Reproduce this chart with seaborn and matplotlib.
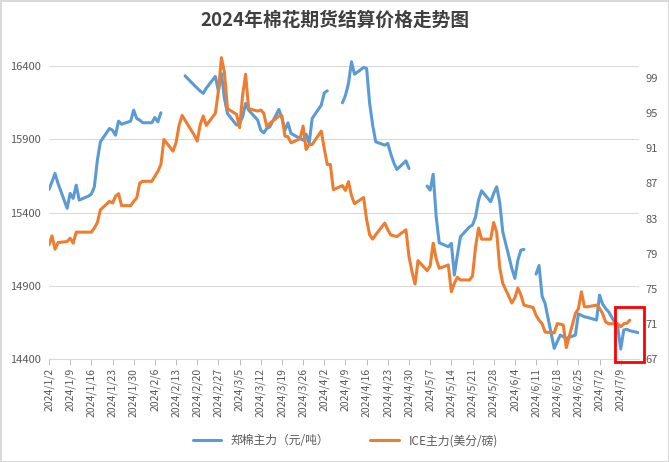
import pandas as pd
import matplotlib.pyplot as plt
from matplotlib.patches import Rectangle
from matplotlib.lines import Line2D
import seaborn as sns

# trading days (weekdays) shown on the chart
days = pd.bdate_range("2024-01-02", "2024-07-15")

# 郑棉主力 (元/吨), None = no trading (Chinese holidays)
zc_jan = [15559, 15611, 15668, 15600, 15430, 15532, 15498, 15588, 15486, 15513, 15527,
          15577, 15759, 15884, 15975, 15963, 15929, 16025, 16004, 16025, 16100, 16043]
zc_feb = [16032, 16014, 16014, 16050, 16020, 16082, None, None, None, None, None, 16334,
          16270, 16250, 16230, 16215, 16250, 16330, 16230, 16350, 16180]
zc_mar = [16077, 15998, 16009, 16054, 16146, 16100, 16032, 15963, 15945, 15975, 15986,
          16105, 16043, 15963, 16013, 15941, 15907, 15895, 15936, 15873, 16043]
zc_apr = [16134, 16218, 16232, None, None, 16150, 16200, 16282, 16430, 16345, 16391,
          16384, 16146, 15998, 15884, 15861, 15873, 15800, 15740, 15695, 15754, 15702]
zc_may = [None, None, None, 15582, 15554, 15663, 15372, 15195, 15168, 15191, 14975, 15111,
          15236, 15304, 15316, 15372, 15486, 15550, 15475, 15532, 15577, 15470, 15270]
zc_jun = [15020, 14952, 15077, 15145, 15150, None, 14981, 15040, 14830, 14780, 14475,
          14520, 14565, 14554, 14543, 14565, 14710, 14700, 14690, 14686]
zc_jul = [14668, 14838, 14777, 14747, 14724, 14617, 14470, 14600, 14605, 14595, 14581]

# ICE主力 (美分/磅)
ice_jan = [80.01, 81.04, 79.52, 80.28, 80.39, 80.77, 80.2, 81.46, 81.46, 81.46, 81.46,
           81.92, 82.56, 84.0, 84.96, 84.77, 85.53, 85.84, 84.47, 84.47, 84.96, 85.34]
ice_feb = [87.05, 87.24, 87.24, 87.81, 88.38, 89.15, 92.0, 90.67, 91.62, 93.6, 94.74,
           94.18, 92.5, 91.81, 93.71, 94.66, 93.6, 94.97, 97.5, 101.3, 99.6]
ice_mar = [95.5, 94.85, 93.33, 97.0, 99.42, 95.5, 95.23, 95.35, 94.97, 93.45, 93.83,
           94.66, 94.7, 92.38, 92.3, 91.62, 92.08, 93.52, 90.86, 91.43, 91.43]
ice_apr = [92.95, 90.94, 89.15, 89.15, 86.29, 86.75, 86.2, 87.2, 85.6, 84.7, 85.4,
           82.9, 81.16, 80.67, 81.16, 82.49, 81.73, 81.13, 81.05, 80.96, 81.73, 78.68]
ice_may = [76.97, 75.56, 78.22, 77.08, 77.62, 80.2, 78.42, 77.35, 77.73, 74.68, 75.64,
           76.33, 76.02, 76.02, 76.47, 79.75, 81.92, 80.66, 80.66, 82.56, 81.42, 77.4, 75.64]
ice_jun = [73.4, 74.0, 75.1, 74.3, 73.16, 72.9, 72.0, 71.45, 71.05, 70.1, 70.0,
           71.05, 71.0, 70.9, 68.33, 72.2, 72.75, 74.68, 72.97, 72.97]
ice_jul = [73.16, 72.8, 72.2, 71.25, 71.05, 71.05, 70.7, 71.05, 71.1, 71.45, None]

zc = zc_jan + zc_feb + zc_mar + zc_apr + zc_may + zc_jun + zc_jul
ice = ice_jan + ice_feb + ice_mar + ice_apr + ice_may + ice_jun + ice_jul

df = pd.DataFrame({"date": days, "zc": zc, "ice": ice}).astype({"zc": float, "ice": float})
df["zc_seg"] = df["zc"].isna().cumsum()  # break the line at the gaps

blue = "#5B9BD5"
orange = "#ED7D31"
grey_txt = "#595959"

sns.set_theme(style="white")
plt.rcParams['font.family'] = ['Noto Sans CJK SC', 'DejaVu Sans']

fig, ax = plt.subplots(figsize=(6.69, 4.62), dpi=100)
fig.subplots_adjust(left=0.0732, right=0.955, bottom=0.2223, top=0.8885)
ax2 = ax.twinx()

sns.lineplot(data=df.dropna(subset=["zc"]), x="date", y="zc", units="zc_seg",
             estimator=None, color=blue, lw=2.2, ax=ax)
sns.lineplot(data=df.dropna(subset=["ice"]), x="date", y="ice",
             estimator=None, color=orange, lw=2.2, ax=ax2)

ax.set_ylim(14400, 16500)
ax.set_yticks(range(14400, 16401, 500))
ax2.set_ylim(67, 102)
ax2.set_yticks(range(67, 100, 4))

ax.set_xlim(pd.Timestamp("2024-01-02"), pd.Timestamp("2024-07-15"))
ticks = pd.date_range("2024-01-02", "2024-07-09", freq="7D")
ax.set_xticks(ticks)
ax.set_xticklabels([f"{d.year}/{d.month}/{d.day}" for d in ticks], rotation=90)

ax.set_xlabel("")
ax.set_ylabel("")
ax2.set_ylabel("")

ax.yaxis.grid(True, color="#d9d9d9", lw=0.75)
ax.set_axisbelow(True)
for a in (ax, ax2):
    for s in ("top", "left", "right"):
        a.spines[s].set_visible(False)
    a.spines["bottom"].set_color("#d9d9d9")
    a.spines["bottom"].set_linewidth(0.75)

ax.tick_params(axis="x", bottom=True, length=4, width=0.75, color="#bfbfbf",
               labelsize=7.5, labelcolor=grey_txt, pad=2)
ax.tick_params(axis="y", left=False, length=0, labelsize=8, labelcolor=grey_txt, pad=6)
ax2.tick_params(axis="y", right=False, length=0, labelsize=8, labelcolor=grey_txt, pad=5)

fig.text(0.5, 1 - 20 / 462, "2024年棉花期货结算价格走势图", ha="center", va="center",
         fontsize=13.5, fontweight="bold", color="#404040")

handles = [Line2D([], [], color=blue, lw=2.2), Line2D([], [], color=orange, lw=2.2)]
fig.legend(handles, ["郑棉主力（元/吨）", "ICE主力(美分/磅)"], loc="center",
           bbox_to_anchor=(0.516, 1 - 441 / 462), ncol=2, frameon=False, fontsize=8.5,
           handlelength=2.4, columnspacing=3.5, labelcolor=grey_txt)

# red highlight box on the latest week
fig.add_artist(Rectangle((615 / 669, 1 - 362 / 462), 29 / 669, 55 / 462,
                         transform=fig.transFigure, fill=False, edgecolor="#ff0000",
                         lw=2, zorder=10))

fig.patch.set_edgecolor("#d9d9d9")
fig.patch.set_linewidth(1)

plt.savefig("out.png", dpi=100)
